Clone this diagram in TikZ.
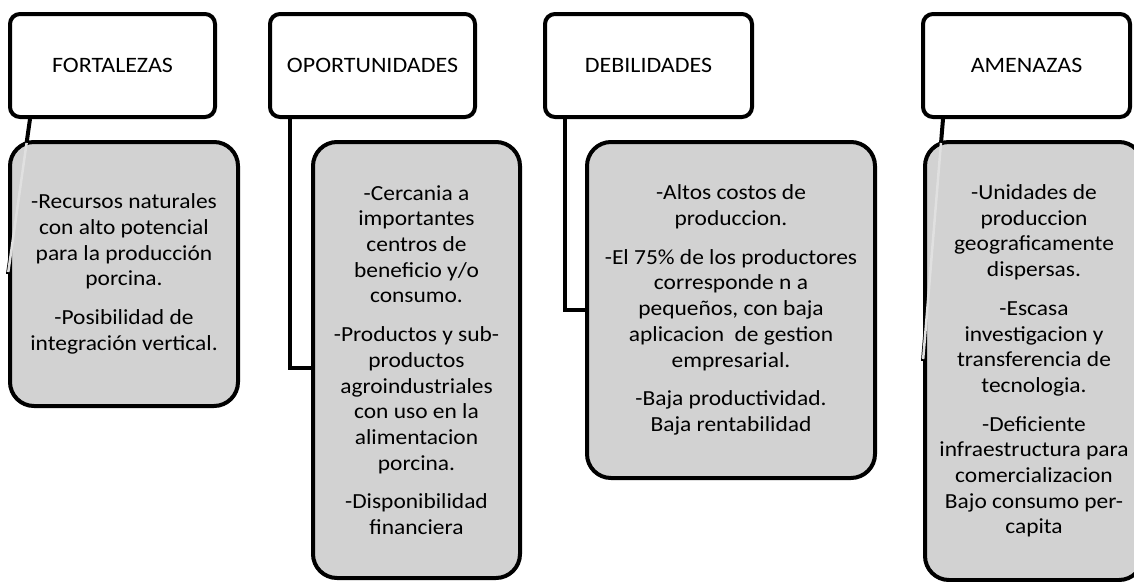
\documentclass[tikz,border=0pt]{standalone}
\usepackage{fontspec}
\setmainfont{Carlito}[FakeStretch=1.09]
\usetikzlibrary{backgrounds}
\definecolor{boxgray}{RGB}{210,210,210}
\definecolor{linegray}{RGB}{224,224,224}
\begin{document}
\begin{tikzpicture}[x=1pt,y=-1pt,
  titlebox/.style={draw, line width=4pt, rounded corners=10pt, fill=white, inner sep=0pt,
    font=\fontsize{22}{26}\selectfont},
  contentbox/.style={draw, line width=4pt, rounded corners=24pt, fill=boxgray, inner sep=0pt,
    align=center, font=\fontsize{21.5}{25.7}\selectfont},
  conn/.style={line width=4pt},
  innerconn/.style={line width=2.5pt, draw=linegray}]
\useasboundingbox (0,0) rectangle (1134,581);

% title boxes
\node[titlebox, minimum width=205pt, minimum height=103pt] (t1) at (112.5,65.5) {FORTALEZAS};
\node[titlebox, minimum width=205pt, minimum height=103pt] (t2) at (372.5,65.5) {OPORTUNIDADES};
\node[titlebox, minimum width=207pt, minimum height=103pt] (t3) at (648.5,65.5) {DEBILIDADES};
\node[titlebox, minimum width=207pt, minimum height=103pt] (t4) at (1026.5,65.5) {AMENAZAS};

% content boxes
\node[contentbox, minimum width=228pt, minimum height=264pt] (c1) at (124,274)
  {-Recursos naturales\\con alto potencial\\para la producción\\porcina.\\[13pt]-Posibilidad de\\integración vertical.};
\node[contentbox, minimum width=207pt, minimum height=436pt] (c2) at (416.5,360)
  {-Cercania a\\importantes\\centros de\\beneficio y/o\\consumo.\\[13pt]-Productos y sub-\\productos\\agroindustriales\\con uso en la\\alimentacion\\porcina.\\[13pt]-Disponibilidad\\financiera};
\node[contentbox, minimum width=288pt, minimum height=336pt] (c3) at (731,310)
  {-Altos costos de\\produccion.\\[13pt]-El 75\% de los productores\\corresponde n a\\pequeños, con baja\\aplicacion \ de gestion\\empresarial.\\[13pt]-Baja productividad.\\Baja rentabilidad};
\node[contentbox, minimum width=218pt, minimum height=438pt] (c4) at (1034,361)
  {-Unidades de\\produccion\\geograficamente\\dispersas.\\[13pt]-Escasa\\investigacion y\\transferencia de\\tecnologia.\\[13pt]-Deficiente\\infraestructura para\\comercializacion\\Bajo consumo per-\\capita};

% connector start points
\coordinate (s1) at ([xshift=22pt]t1.south west);
\coordinate (s2) at ([xshift=22pt]t2.south west);
\coordinate (s3) at ([xshift=22pt]t3.south west);
\coordinate (s4) at ([xshift=22pt]t4.south west);

\begin{scope}[on background layer]
  \draw[conn] (s1) -- (c1.west);
  \draw[conn] (s2) |- ([yshift=-8pt]c2.west);
  \draw[conn] (s3) |- (c3.west);
  \draw[conn] (s4) -- (c4.west);
  \coordinate (e1) at (intersection of s1--c1.west and c1.north west--c1.north east);
  \coordinate (e4) at (intersection of s4--c4.west and c4.north west--c4.north east);
\end{scope}
% light continuation of the slanted connectors inside the filled boxes
\draw[innerconn, shorten <=3pt, shorten >=2pt] (e1) -- (c1.west);
\draw[innerconn, shorten <=3pt, shorten >=2pt] (e4) -- (c4.west);
\end{tikzpicture}
\end{document}
